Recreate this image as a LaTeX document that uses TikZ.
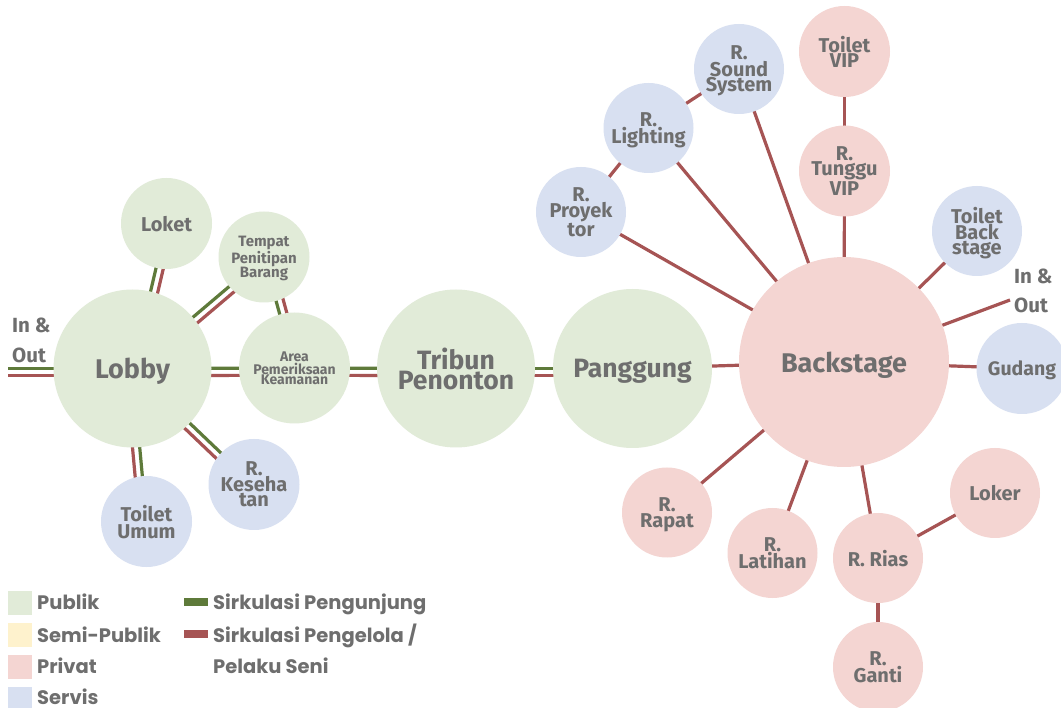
\documentclass[tikz,border=0pt]{standalone}
\usepackage{fontspec}
\newfontfamily\lblfont{Fira Sans}
\newfontfamily\legfont{Poppins}
\usetikzlibrary{calc}
\pgfdeclarelayer{bglayer}
\pgfdeclarelayer{linelayer}
\pgfsetlayers{bglayer,linelayer,main}
\definecolor{pub}{HTML}{E1EBD8}
\definecolor{semi}{HTML}{FEF2CD}
\definecolor{priv}{HTML}{F4D5D2}
\definecolor{serv}{HTML}{D8E0F1}
\definecolor{lgreen}{HTML}{5E7A3A}
\definecolor{lred}{HTML}{A65454}
\definecolor{txt}{HTML}{6E6E6E}
\newcommand{\fsz}[2]{\fontsize{#1}{#2}\selectfont}
\newcommand{\dblconn}[2]{%
  \draw[grnline] (#1) -- (#2);
  \draw[redline] ($(#1)!7.2pt!-90:(#2)$) -- ($(#2)!7.2pt!90:(#1)$);}
\tikzset{
  room/.style n args={4}{circle, inner sep=0pt, minimum size=#1, fill=#2, text=txt,
    align=center, font=\lblfont\bfseries\fsz{#3}{#4}, text depth=0pt},
  grnline/.style={draw=lgreen, line width=3.2pt},
  redline/.style={draw=lred, line width=3.2pt},
  legtxt/.style={anchor=base west, text=txt, font=\legfont\bfseries\fsz{19.5}{19.5}, inner sep=0pt},
  iotxt/.style={anchor=base west, text=txt, font=\lblfont\bfseries\fsz{20.5}{20.5}, inner sep=0pt},
  legsq/.style={minimum size=24pt, inner sep=0pt},
  legbar/.style={minimum width=24pt, minimum height=8pt, inner sep=0pt},
}
\begin{document}
\begin{tikzpicture}[x=1pt,y=-1pt]
\useasboundingbox (0,0) rectangle (1061,708);
\begin{pgfonlayer}{bglayer}
  \fill[white] (0,0) rectangle (1061,708);
\end{pgfonlayer}

% public cluster
\node[room={158pt}{pub}{27}{27}] (lobby) at (132.5,368.5) {Lobby};
\node[room={91pt}{pub}{20}{20}] (loket) at (166.5,223.5) {Loket};
\node[room={91pt}{pub}{15}{11}] (tempat) at (264,257) {Tempat\\Penitipan\\Barang};
\node[room={111pt}{pub}{14}{10}] (area) at (294.5,368) {Area\\Pemeriksaan\\Keamanan};
\node[room={91pt}{serv}{20}{15.5}] (kes) at (254,484.5) {R.\\Keseha\\tan};
\node[room={91pt}{serv}{20}{17}] (tumum) at (146.5,521.5) {Toilet\\Umum};
\node[room={158pt}{pub}{26.5}{20}] (tribun) at (456,368.5) {Tribun\\Penonton};
\node[room={159pt}{pub}{26.5}{26}] (panggung) at (632.5,368.5) {Panggung};

% backstage cluster
\node[room={210pt}{priv}{27}{27}] (back) at (844,362) {Backstage};
\node[room={91pt}{serv}{19.5}{19}] (gudang) at (1022,368.5) {Gudang};
\node[room={90pt}{priv}{20}{20}] (loker) at (995,493) {Loker};
\node[room={90pt}{priv}{20}{20}] (rias) at (878,558) {R. Rias};
\node[room={90pt}{priv}{20}{16}] (ganti) at (878,667) {R.\\Ganti};
\node[room={90pt}{priv}{20}{14}] (latihan) at (772.5,553) {R.\\Latihan};
\node[room={90pt}{priv}{20}{16}] (rapat) at (667,512.5) {R.\\Rapat};
\node[room={90pt}{serv}{20}{15.5}] (proyek) at (581,212) {R.\\Proyek\\tor};
\node[room={90pt}{serv}{20}{15}] (lighting) at (648.5,128) {R.\\Lighting};
\node[room={90pt}{serv}{20}{14}] (sound) at (739,69) {R.\\Sound\\System};
\node[room={91pt}{priv}{20}{15}] (tunggu) at (844.5,171) {R.\\Tunggu\\VIP};
\node[room={91pt}{priv}{20}{15}] (tvip) at (844.5,51.5) {Toilet\\VIP};
\node[room={90pt}{serv}{20}{15}] (tback) at (977,231) {Toilet\\Back\\stage};

% in & out labels
\node[iotxt] (inL1) at (12,333) {In \&};
\node[iotxt] (inL2) at (12,363) {Out};
\node[iotxt] (inR1) at (1014,284) {In \&};
\node[iotxt] (inR2) at (1014,313) {Out};
\coordinate (inL) at (8,368.5);
\coordinate (inR) at (1010,300);

% connectors
\begin{pgfonlayer}{linelayer}
  \dblconn{inL}{lobby.center}
  \dblconn{lobby.center}{loket.center}
  \dblconn{lobby.center}{tempat.center}
  \dblconn{area.center}{tempat.center}
  \dblconn{lobby.center}{area.center}
  \dblconn{lobby.center}{kes.center}
  \dblconn{lobby.center}{tumum.center}
  \dblconn{area.center}{tribun.center}
  \dblconn{tribun.center}{panggung.center}
  \draw[redline] (panggung.center) -- (back.center);
  \draw[redline] (back.center) -- (proyek.center);
  \draw[redline] (back.center) -- (lighting.center);
  \draw[redline] (back.center) -- (sound.center);
  \draw[redline] (lighting.center) -- (proyek.center);
  \draw[redline] (lighting.center) -- (sound.center);
  \draw[redline] (back.center) -- (tunggu.center);
  \draw[redline] (tunggu.center) -- (tvip.center);
  \draw[redline] (back.center) -- (tback.center);
  \draw[redline] (back.center) -- (inR);
  \draw[redline] (back.center) -- (gudang.center);
  \draw[redline] (back.center) -- (rapat.center);
  \draw[redline] (back.center) -- (latihan.center);
  \draw[redline] (back.center) -- (rias.center);
  \draw[redline] (rias.center) -- (loker.center);
  \draw[redline] (rias.center) -- (ganti.center);
\end{pgfonlayer}

% legend
\node[legsq, fill=pub] (sqpub) at (20,602.5) {};
\node[legsq, fill=semi] (sqsemi) at (20,635) {};
\node[legsq, fill=priv] (sqpriv) at (20,667) {};
\node[legsq, fill=serv] (sqserv) at (20,699) {};
\node[legtxt] (tpub) at (37,609) {Publik};
\node[legtxt] (tsemi) at (37,642) {Semi-Publik};
\node[legtxt] (tpriv) at (37,673) {Privat};
\node[legtxt] (tserv) at (37,704) {Servis};
\node[legbar, fill=lgreen] (bargrn) at (196,602) {};
\node[legbar, fill=lred] (barred) at (196,634) {};
\node[legtxt] (tgrn) at (213,609) {Sirkulasi Pengunjung};
\node[legtxt] (tred1) at (213,642) {Sirkulasi Pengelola /};
\node[legtxt] (tred2) at (213,673) {Pelaku Seni};
\end{tikzpicture}
\end{document}
